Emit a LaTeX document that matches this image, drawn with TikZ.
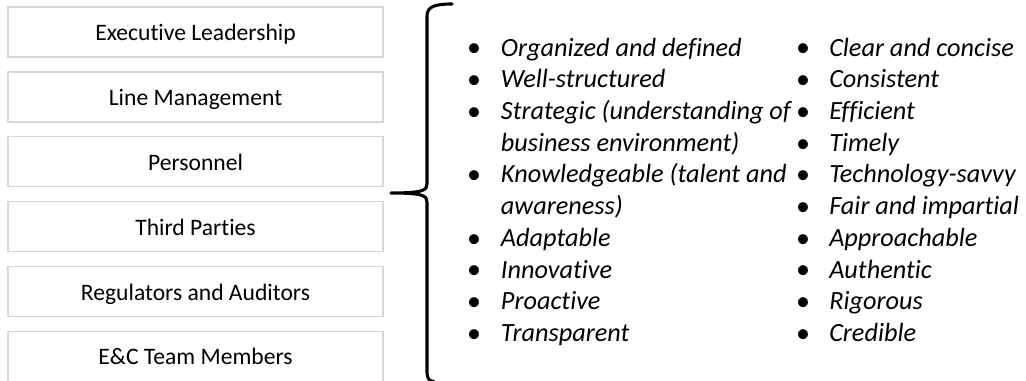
\documentclass[tikz,border=0pt]{standalone}
\usepackage{fontspec}
\setmainfont[RawFeature=-liga]{Carlito}
\definecolor{boxgray}{RGB}{216,216,216}
\begin{document}
\begin{tikzpicture}[x=0.75pt,y=-0.75pt,
  box/.style={draw=boxgray, line width=1.1pt, minimum width=281.25pt, minimum height=37.5pt,
    inner sep=0pt, text height=13pt, text depth=0pt, font=\fontsize{17.7pt}{21pt}\selectfont},
  item/.style={anchor=base west, inner sep=0pt, font=\fontsize{19.7pt}{24pt}\selectfont\itshape},
  bul/.style={anchor=base, inner sep=0pt, font=\fontsize{21pt}{24pt}\selectfont},
  brace/.style={draw=black, line width=2.3pt, line cap=round, line join=round}]
\useasboundingbox (0,0) rectangle (1026,381);
\clip (0,0) rectangle (1026,381);
\fill[white] (0,0) rectangle (1026,381);
% boxes
\foreach \t [count=\k from 0] in {Executive Leadership, Line Management, Personnel, Third Parties, Regulators and Auditors, E\&C Team Members}
  \node[box] (box\k) at (195.5, 32+64.86*\k) {\t};
% brace
\coordinate (btop) at (452,4);
\coordinate (btip) at (391,193);
\coordinate (bbot) at (434,381.5);
\draw[brace] (btop) .. controls (434,4) and (427,7) .. (427,16) -- (427,184)
  .. controls (427,190) and (424,193) .. (btip)
  .. controls (424,193) and (427,196) .. (427,202) -- (427,372)
  .. controls (427,378) and (429,381.5) .. (bbot);
% left column
\foreach \t/\b [count=\n from 0] in {Organized and defined/1, Well-structured/1, Strategic (understanding of/1, business environment)/0, Knowledgeable (talent and/1, awareness)/0, Adaptable/1, Innovative/1, Proactive/1, Transparent/1}{
  \node[item] (l\n) at (500.7, 56.2+31.7*\n) {\t};
  \ifnum\b=1 \node[bul] (lb\n) at (474, 57+31.7*\n) {\textbullet}; \fi
}
% right column
\foreach \t [count=\n from 0] in {Clear and concise, Consistent, Efficient, Timely, Technology-savvy, Fair and impartial, Approachable, Authentic, Rigorous, Credible}{
  \node[item] (r\n) at (829, 56.2+31.7*\n) {\t};
  \node[bul] (rb\n) at (803, 57+31.7*\n) {\textbullet};
}
\end{tikzpicture}
\end{document}
